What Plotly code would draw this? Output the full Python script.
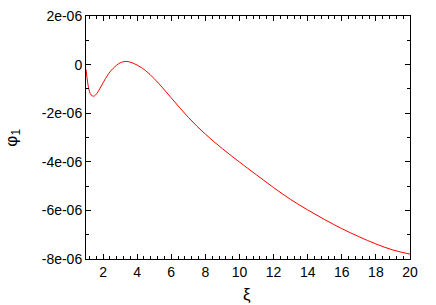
import plotly.graph_objects as go

xi = [1.0, 1.1, 1.2, 1.3, 1.45, 1.6, 1.8, 2.0, 2.3, 2.6, 3.0, 3.4, 4.0, 4.5,
      5.0, 5.5, 6.0, 6.5, 7.0, 7.5, 8.0, 8.5, 9.0, 9.5, 10.0, 11.0, 12.0,
      13.0, 14.0, 15.0, 16.0, 17.0, 18.0, 19.0, 20.0]
phi1 = [-0.2e-6, -0.75e-6, -1.1e-6, -1.25e-6, -1.3e-6, -1.22e-6, -1.0e-6,
        -0.75e-6, -0.4e-6, -0.15e-6, 0.07e-6, 0.13e-6, -0.02e-6, -0.25e-6,
        -0.58e-6, -0.96e-6, -1.37e-6, -1.78e-6, -2.17e-6, -2.53e-6, -2.86e-6,
        -3.17e-6, -3.46e-6, -3.74e-6, -4.01e-6, -4.54e-6, -5.06e-6, -5.55e-6,
        -5.98e-6, -6.38e-6, -6.75e-6, -7.08e-6, -7.38e-6, -7.63e-6, -7.8e-6]

y_tickvals = [2e-6, 0, -2e-6, -4e-6, -6e-6, -8e-6]
y_ticktext = ["2e-06", "0", "-2e-06", "-4e-06", "-6e-06", "-8e-06"]

font = dict(family="Liberation Sans, Arial, sans-serif", size=14, color="black")

fig = go.Figure()
fig.add_trace(go.Scatter(x=xi, y=phi1, mode="lines",
                         line=dict(color="red", width=1, shape="spline", smoothing=1.0),
                         showlegend=False, hoverinfo="skip"))

fig.update_layout(
    width=436, height=305,
    margin=dict(l=86, r=26, t=16, b=46),
    paper_bgcolor="white", plot_bgcolor="white",
    font=font,
    annotations=[
        dict(text="ξ", xref="paper", yref="paper", x=0.497, y=-0.148,
             xanchor="center", yanchor="middle", showarrow=False,
             font=dict(size=17)),
        dict(text="φ<sub>1</sub>", xref="paper", yref="paper", x=-0.228, y=0.5,
             xanchor="center", yanchor="middle", showarrow=False, textangle=-90,
             font=dict(size=17)),
    ],
)
fig.update_xaxes(
    range=[1, 20], tick0=0, dtick=2, automargin=False, ticklabeloverflow="allow",
    ticks="inside", ticklen=5, tickwidth=1, tickcolor="black",
    minor=dict(dtick=0.4, tick0=0, ticks="inside", ticklen=3, tickcolor="black"),
    showline=True, linecolor="black", linewidth=1, mirror="ticks",
    showgrid=False, zeroline=False,
)
fig.update_yaxes(
    range=[-8e-6, 2e-6], tickvals=y_tickvals, ticktext=y_ticktext, automargin=False,
    ticklabeloverflow="allow",
    ticks="inside", ticklen=5, tickwidth=1, tickcolor="black",
    minor=dict(dtick=1e-6, tick0=0, ticks="inside", ticklen=3, tickcolor="black"),
    showline=True, linecolor="black", linewidth=1, mirror="ticks",
    showgrid=False, zeroline=False,
)

fig.write_html("out.html", config={"displayModeBar": False},
               post_script="document.body.style.margin='0';")
